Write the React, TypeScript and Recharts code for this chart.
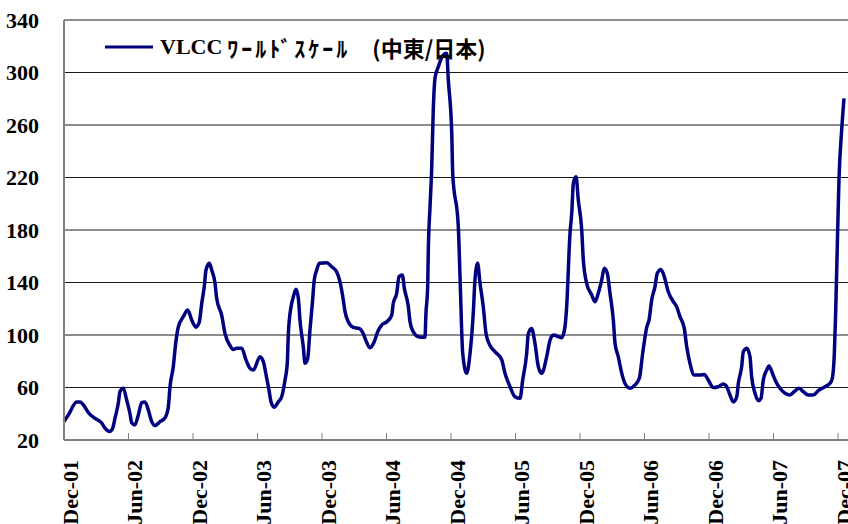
import React from 'react';
import { LineChart, Line, XAxis, YAxis, CartesianGrid, Legend } from 'recharts';

// months since Dec-01, and the world-scale values at those points
const monthPos = [
  0, 0.4, 1.18, 1.49, 1.95, 2.26, 2.88, 3.51, 3.81, 4.28, 4.53, 4.74, 5.05, 5.21, 5.52, 5.83,
  6.14, 6.3, 6.6, 6.91, 7.23, 7.53, 7.84, 8.16, 8.47, 8.93, 9.4, 9.7, 9.86, 10.17, 10.39, 10.63,
  11.1, 11.51, 11.88, 12.28, 12.59, 12.81, 13.05, 13.21, 13.52, 13.74, 14.05, 14.2, 14.67, 14.98,
  15.44, 15.75, 16.07, 16.53, 16.93, 17.3, 17.61, 18.23, 18.54, 18.86, 19.07, 19.26, 19.56, 19.93,
  20.25, 20.56, 20.77, 20.87, 21.12, 21.33, 21.58, 21.8, 21.95, 22.26, 22.42, 22.67, 22.88, 23.1,
  23.28, 23.51, 23.75, 24.44, 24.9, 25.37, 25.67, 25.98, 26.14, 26.45, 26.91, 27.44, 27.84, 28.09,
  28.47, 28.87, 29.18, 29.55, 30.02, 30.48, 30.63, 30.95, 31.16, 31.47, 31.66, 32.03, 32.19, 32.49,
  32.96, 33.58, 33.67, 33.83, 33.89, 34.05, 34.2, 34.35, 34.51, 34.82, 35.28, 35.6, 35.75, 36.07,
  36.16, 36.68, 36.84, 37.09, 37.46, 37.77, 38.07, 38.23, 38.48, 38.7, 39.0, 39.26, 39.63, 40.09,
  40.72, 41.02, 41.49, 41.95, 42.42, 42.67, 43.04, 43.19, 43.5, 43.81, 44.12, 44.44, 44.9, 45.21,
  45.52, 46.3, 46.6, 46.76, 47.07, 47.23, 47.38, 47.63, 47.84, 48.16, 48.31, 48.62, 49.09, 49.4,
  49.7, 50.02, 50.26, 50.54, 50.79, 51.1, 51.26, 51.56, 51.88, 52.19, 52.65, 53.12, 53.52, 53.83,
  54.21, 54.42, 54.67, 54.98, 55.19, 55.53, 55.84, 56.21, 56.68, 56.99, 57.3, 57.7, 57.93, 58.23,
  58.63, 59.16, 59.56, 59.93, 60.4, 60.87, 61.33, 61.65, 61.95, 62.26, 62.58, 62.73, 63.04, 63.19,
  63.51, 63.81, 63.97, 64.28, 64.59, 64.84, 65.05, 65.37, 65.58, 65.89, 66.21, 66.6, 67.07, 67.53,
  67.93, 68.37, 68.77, 69.24, 69.7, 70.17, 70.79, 71.26, 71.47, 71.66, 71.78, 71.97, 72.09, 72.34,
  72.56,
];

const wsValues = [
  34, 39, 49, 49, 45, 41, 36.5, 33, 29, 26.5, 29, 36.5, 48, 57, 59.5, 50.5,
  40, 33, 31.5, 39, 48.5, 49, 43, 34, 31, 34, 37, 45, 60.6, 76, 93.7, 106,
  114, 119, 111.4, 106, 110, 124, 137, 149.5, 154.6, 149.5, 139.4, 128, 115, 101,
  92, 89, 90, 90, 81, 74.6, 73.3, 83.5, 79.7, 67, 58, 49, 45, 49,
  53, 65.7, 78.4, 101, 121.6, 129, 134.8, 128, 111.4, 91, 78.4, 82, 103.8, 124,
  142, 149.5, 154.6, 155, 152, 148, 140.6, 126.7, 117.8, 110, 105.8, 105, 101, 95.7,
  90.3, 95, 102.5, 107.6, 110, 115, 124, 131.8, 144.4, 145.7, 135.5, 121.6, 110, 102.5,
  98.7, 98.2, 116.5, 137, 164.8, 197.8, 225.7, 271.4, 295.6, 304.4, 313.3, 314.6, 294.3, 253.7,
  223.2, 182.5, 144.4, 86, 70.8, 86, 116.5, 142, 154.6, 139.4, 121.6, 101, 92, 87.3,
  81, 70.8, 60.6, 53, 51.8, 65.7, 86, 101, 105, 93.7, 76, 70.8, 83.5, 96,
  100, 98, 106, 121.6, 177.5, 192.7, 215.6, 220.6, 203, 180, 157, 139.4, 130.5, 125.4,
  131.8, 142, 150.8, 147, 131.8, 111.4, 93.7, 83.5, 71, 63, 59.4, 62, 67, 86,
  106, 111.4, 126.7, 137, 147, 150, 144.4, 133, 125.4, 121.6, 114, 105, 91, 78.4,
  69.5, 69.5, 70, 65.7, 60, 60.6, 62.7, 60.6, 54.3, 49, 53, 63.2, 76, 87.3,
  90, 83.5, 68, 55.6, 50, 51.8, 65.7, 73.3, 76.4, 71, 64.5, 59.4, 55.6, 54.3,
  56.8, 59.4, 56.8, 54.3, 54.3, 57.6, 60.6, 63.2, 67, 86, 116.5, 180, 218.1, 256,
  280.3,
];

const xTicks = [0, 6, 12, 18, 24, 30, 36, 42, 48, 54, 60, 66, 72];
const xTickLabels = [
  'Dec-01', 'Jun-02', 'Dec-02', 'Jun-03', 'Dec-03', 'Jun-04', 'Dec-04',
  'Jun-05', 'Dec-05', 'Jun-06', 'Dec-06', 'Jun-07', 'Dec-07',
];
const yTicks = [20, 60, 100, 140, 180, 220, 260, 300, 340];

// legend label, in its three typographic pieces
const namePrefix = 'VLCC';
const nameKana = 'ﾜｰﾙﾄﾞｽｹｰﾙ';
const nameRoute = '　(中東/日本)';

const NAVY = '#000080';
const SERIF = '"Liberation Serif", "Times New Roman", serif';
const GOTHIC = '"Noto Sans CJK JP", "Noto Sans", sans-serif';

const chartData = monthPos.map((m, i) => ({ m, v: wsValues[i] }));

// rotated month label with a short tick pointing into the plot
const MonthTick = (props: any) => {
    const { x, y, payload } = props;
    const idx = xTicks.indexOf(payload.value);
    return (
        <g>
            <line x1={x} y1={y} x2={x} y2={y - 7} stroke="#808080" strokeWidth={1} />
            <text
                transform={`translate(${x + 6},${y + 20}) rotate(-90)`}
                textAnchor="end"
                dy="0.35em"
                fontFamily={SERIF}
                fontWeight={700}
                fontSize={22}
                fill="#000"
            >
                {xTickLabels[idx]}
            </text>
        </g>
    );
};

// legend: line sample + serif "VLCC" + japanese part
const LegendBox = () => (
    <div style={{ display: 'flex', alignItems: 'center', whiteSpace: 'nowrap', lineHeight: 1, color: '#000' }}>
        <svg width={48} height={6} style={{ display: 'block' }}>
            <line x1={0} y1={3} x2={48} y2={3} stroke={NAVY} strokeWidth={3} />
        </svg>
        <span style={{ marginLeft: 7, fontFamily: SERIF, fontWeight: 700, fontSize: 22 }}>
            {namePrefix}
        </span>
        <span style={{ marginLeft: 5, fontFamily: GOTHIC, fontWeight: 700, fontSize: 22, letterSpacing: 3 }}>
            {nameKana}
        </span>
        <span style={{ fontFamily: GOTHIC, fontWeight: 700, fontSize: 22 }}>
            {nameRoute}
        </span>
    </div>
);

export default function App() {
    return (
        <div style={{ position: 'absolute', left: 0, top: 0, background: '#fff' }}>
            <LineChart
                width={848}
                height={524}
                data={chartData}
                margin={{ top: 20, right: 0, left: 0, bottom: 0 }}
            >
                <CartesianGrid vertical={false} stroke="#1a1a1a" strokeWidth={1} />
                <XAxis
                    dataKey="m"
                    type="number"
                    domain={[0, 72.93]}
                    ticks={xTicks}
                    interval={0}
                    height={84}
                    tickLine={false}
                    tickSize={0}
                    tickMargin={0}
                    stroke="#808080"
                    strokeWidth={2}
                    tick={<MonthTick />}
                />
                <YAxis
                    type="number"
                    domain={[20, 340]}
                    ticks={yTicks}
                    interval={0}
                    width={64}
                    tickLine={false}
                    tickMargin={19}
                    stroke="#808080"
                    strokeWidth={2}
                    tick={{ fill: '#000', fontFamily: SERIF, fontWeight: 700, fontSize: 22 }}
                />
                <Legend
                    layout="horizontal"
                    verticalAlign="middle"
                    align="center"
                    content={<LegendBox />}
                    wrapperStyle={{ top: 36, left: 105, width: 'auto', height: 'auto' }}
                />
                <Line
                    name={`${namePrefix} ${nameKana}${nameRoute}`}
                    dataKey="v"
                    type="monotone"
                    stroke={NAVY}
                    strokeWidth={3.5}
                    dot={false}
                    activeDot={false}
                    isAnimationActive={false}
                />
            </LineChart>
        </div>
    );
}
